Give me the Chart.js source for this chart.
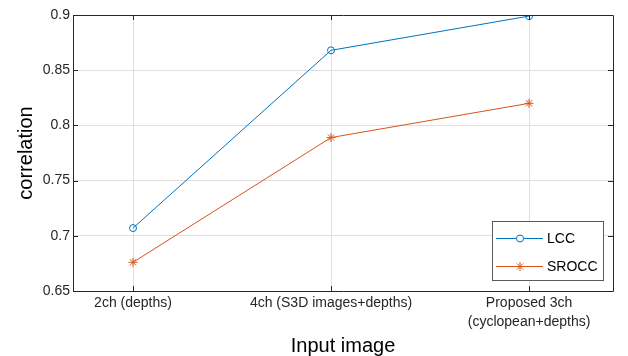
<!DOCTYPE html>
<html>
<head>
<meta charset="utf-8">
<script src="https://cdn.jsdelivr.net/npm/chart.js@4/dist/chart.umd.min.js"></script>
<style>
html,body{margin:0;padding:0;background:#fff;}
#wrap{width:628px;height:356px;position:relative;}
</style>
</head>
<body>
<div id="wrap"><canvas id="c" width="628" height="356"></canvas></div>
<script>
const categories = [["2ch (depths)"], ["4ch (S3D images+depths)"], ["Proposed 3ch", "(cyclopean+depths)"]];
const lccValues = [0.707, 0.868, 0.899];
const sroccValues = [0.676, 0.789, 0.820];
const yTicks = [0.65, 0.7, 0.75, 0.8, 0.85, 0.9];
const seriesNames = ["LCC", "SROCC"];

const FONT = "'Liberation Sans', Arial, Helvetica, sans-serif";
const AX = '#262626';
const GRID = '#dfdfdf';
const BLUE = '#0072BD';
const ORANGE = '#D95319';

function toPts(vals){ return vals.map((v,i)=>({x:i+1,y:v})); }

const boxPlugin = {
  id: 'boxTicks',
  afterDatasetsDraw(chart){
    const ctx = chart.ctx, a = chart.chartArea;
    const xs = chart.scales.x, ys = chart.scales.y;
    ctx.save();
    ctx.strokeStyle = AX; ctx.lineWidth = 1;
    ctx.beginPath();
    ctx.rect(Math.round(a.left)+0.5, Math.round(a.top)+0.5, Math.round(a.right-a.left), Math.round(a.bottom-a.top));
    ctx.stroke();
    const L = 5;
    ctx.beginPath();
    categories.forEach((c,i)=>{
      const px = Math.round(xs.getPixelForValue(i+1))+0.5;
      ctx.moveTo(px, a.bottom); ctx.lineTo(px, a.bottom-L);
      ctx.moveTo(px, a.top); ctx.lineTo(px, a.top+L);
    });
    yTicks.forEach(v=>{
      const py = Math.round(ys.getPixelForValue(v))+0.5;
      ctx.moveTo(a.left, py); ctx.lineTo(a.left+L, py);
      ctx.moveTo(a.right, py); ctx.lineTo(a.right-L, py);
    });
    ctx.stroke();

    // legend
    const lx = 492, ly = 221, lw = 111, lh = 59;
    ctx.fillStyle = '#fff';
    ctx.fillRect(lx, ly, lw, lh);
    ctx.strokeStyle = '#5a5a5a';
    ctx.strokeRect(lx+0.5, ly+0.5, lw, lh);
    const rows = [ly+17, ly+45];
    chart.data.datasets.forEach((ds, i)=>{
      const y = rows[i];
      ctx.strokeStyle = ds.borderColor; ctx.lineWidth = 1;
      ctx.beginPath(); ctx.moveTo(lx+4, y+0.5); ctx.lineTo(lx+51, y+0.5); ctx.stroke();
      Chart.helpers.drawPoint(ctx, {pointStyle: ds.pointStyle, radius: ds.pointRadius, borderWidth: 1, rotation: 0}, lx+28, y+0.5);
      ctx.fillStyle = '#000';
      ctx.font = '14px ' + FONT;
      ctx.textBaseline = 'middle';
      ctx.textAlign = 'left';
      ctx.fillText(ds.label, lx+55, y+1);
    });
    ctx.restore();
  }
};

new Chart(document.getElementById('c'), {
  type: 'line',
  data: {
    datasets: [
      {label: seriesNames[0], data: toPts(lccValues), borderColor: BLUE, backgroundColor: 'rgba(0,0,0,0)',
       pointStyle: 'circle', pointRadius: 3.5, pointBorderColor: BLUE, pointBackgroundColor: 'rgba(0,0,0,0)', borderWidth: 1, pointBorderWidth: 1},
      {label: seriesNames[1], data: toPts(sroccValues), borderColor: ORANGE, backgroundColor: 'rgba(0,0,0,0)',
       pointStyle: 'star', pointRadius: 4.5, pointBorderColor: ORANGE, pointBackgroundColor: ORANGE, borderWidth: 1, pointBorderWidth: 1}
    ]
  },
  options: {
    responsive: false,
    animation: false,
    devicePixelRatio: 1,
    layout: {padding: {left: 0, top: 15, right: 15, bottom: 0}},
    plugins: {legend: {display: false}, tooltip: {enabled: false}},
    scales: {
      x: {
        type: 'linear', min: 0.697, max: 3.424,
        afterBuildTicks: s => { s.ticks = categories.map((c,i)=>({value: i+1})); },
        afterFit: s => { s.height = 65; },
        ticks: {
          callback: (v) => categories[Math.round(v)-1] || '',
          color: AX, padding: 3, maxRotation: 0, autoSkip: false,
          font: {family: FONT, size: 14, lineHeight: 1.35}
        },
        grid: {color: GRID, drawTicks: false},
        border: {display: false},
        title: {display: true, text: 'Input image', color: '#000',
          font: {family: FONT, size: 20, lineHeight: 1}, padding: {top: 0, bottom: 0}}
      },
      y: {
        min: 0.65, max: 0.9,
        afterBuildTicks: s => { s.ticks = yTicks.map(v=>({value: v})); },
        afterFit: s => { s.width = 73; },
        ticks: {
          callback: v => parseFloat(v.toFixed(2)).toString(),
          color: AX, padding: 3,
          font: {family: FONT, size: 14}
        },
        grid: {color: GRID, drawTicks: false},
        border: {display: false},
        title: {display: true, text: 'correlation', color: '#000',
          font: {family: FONT, size: 20, lineHeight: 1.2}, padding: {top: 14, bottom: 0}}
      }
    }
  },
  plugins: [boxPlugin]
});
</script>
</body>
</html>
